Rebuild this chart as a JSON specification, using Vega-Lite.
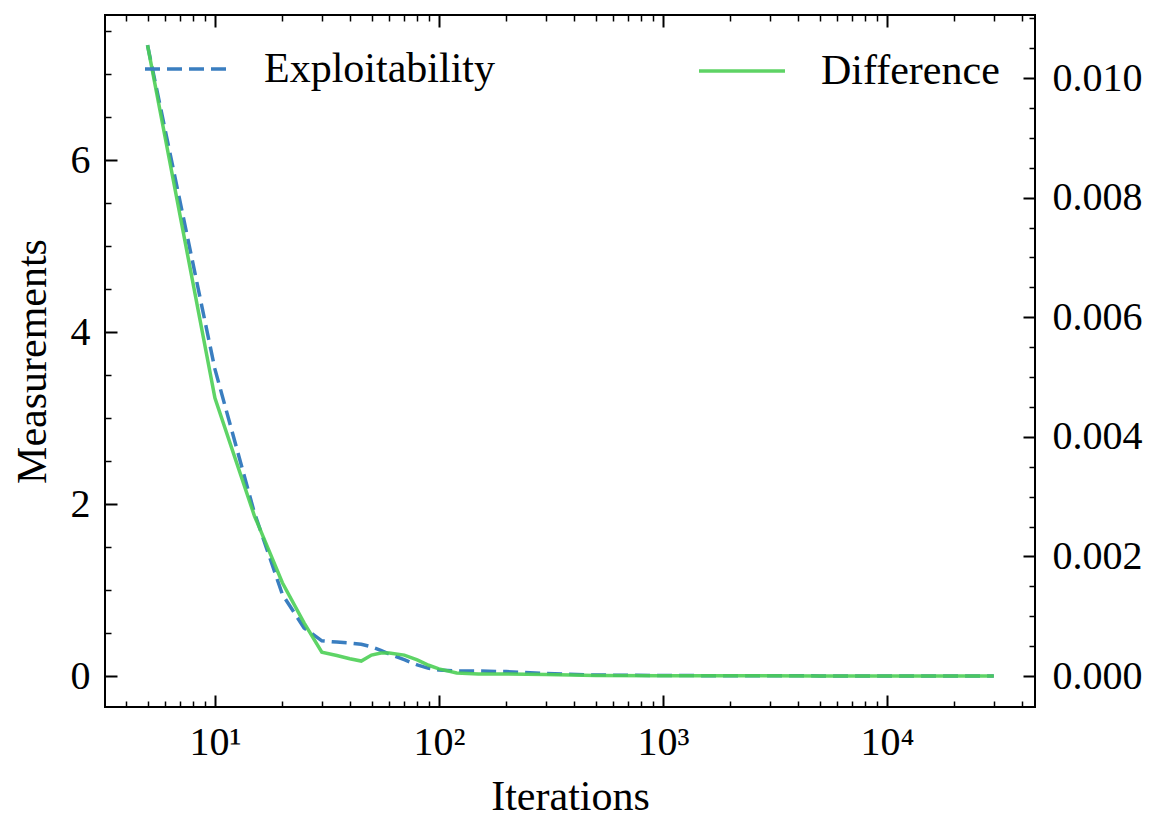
{
  "$schema": "https://vega.github.io/schema/vega-lite/v6.json",
  "width": 930,
  "height": 692,
  "autosize": "none",
  "padding": {"left": 105, "top": 15, "right": 125, "bottom": 125},
  "background": "white",
  "config": {
    "font": "Liberation Serif",
    "view": {"stroke": "black", "strokeWidth": 2},
    "axis": {"domain": false, "grid": false, "labelFlush": false, "tickColor": "black", "labelColor": "black", "titleColor": "black", "titleFontWeight": "normal", "labelFont": "Liberation Serif", "titleFont": "Liberation Serif"}
  },
  "datasets": {
    "exploit": [
      {"n": 5, "series": "Exploitability", "value": 7.34},
      {"n": 10, "series": "Exploitability", "value": 3.57},
      {"n": 15, "series": "Exploitability", "value": 1.9},
      {"n": 20, "series": "Exploitability", "value": 0.95},
      {"n": 25, "series": "Exploitability", "value": 0.56},
      {"n": 30, "series": "Exploitability", "value": 0.41},
      {"n": 35, "series": "Exploitability", "value": 0.395},
      {"n": 40, "series": "Exploitability", "value": 0.384},
      {"n": 45, "series": "Exploitability", "value": 0.37},
      {"n": 50, "series": "Exploitability", "value": 0.34},
      {"n": 55, "series": "Exploitability", "value": 0.3},
      {"n": 60, "series": "Exploitability", "value": 0.256},
      {"n": 70, "series": "Exploitability", "value": 0.19},
      {"n": 80, "series": "Exploitability", "value": 0.13},
      {"n": 90, "series": "Exploitability", "value": 0.09},
      {"n": 100, "series": "Exploitability", "value": 0.07},
      {"n": 120, "series": "Exploitability", "value": 0.058},
      {"n": 150, "series": "Exploitability", "value": 0.058},
      {"n": 200, "series": "Exploitability", "value": 0.052},
      {"n": 300, "series": "Exploitability", "value": 0.03},
      {"n": 500, "series": "Exploitability", "value": 0.012},
      {"n": 1000, "series": "Exploitability", "value": 0.006},
      {"n": 2000, "series": "Exploitability", "value": 0.004},
      {"n": 5000, "series": "Exploitability", "value": 0.002},
      {"n": 10000, "series": "Exploitability", "value": 0.001},
      {"n": 20000, "series": "Exploitability", "value": 0.0005},
      {"n": 30000, "series": "Exploitability", "value": 0.0003}
    ],
    "diff": [
      {"n": 5, "series": "Difference", "value": 0.01055},
      {"n": 10, "series": "Difference", "value": 0.00465},
      {"n": 15, "series": "Difference", "value": 0.00268},
      {"n": 20, "series": "Difference", "value": 0.00156},
      {"n": 25, "series": "Difference", "value": 0.00089},
      {"n": 30, "series": "Difference", "value": 0.0004},
      {"n": 35, "series": "Difference", "value": 0.000343},
      {"n": 40, "series": "Difference", "value": 0.00029},
      {"n": 45, "series": "Difference", "value": 0.00025},
      {"n": 50, "series": "Difference", "value": 0.00035},
      {"n": 55, "series": "Difference", "value": 0.000385},
      {"n": 60, "series": "Difference", "value": 0.000385},
      {"n": 70, "series": "Difference", "value": 0.00035},
      {"n": 80, "series": "Difference", "value": 0.00027},
      {"n": 90, "series": "Difference", "value": 0.00018},
      {"n": 100, "series": "Difference", "value": 0.00012},
      {"n": 120, "series": "Difference", "value": 0.00005},
      {"n": 150, "series": "Difference", "value": 0.000035},
      {"n": 200, "series": "Difference", "value": 0.000035},
      {"n": 300, "series": "Difference", "value": 0.000025},
      {"n": 500, "series": "Difference", "value": 0.00001},
      {"n": 1000, "series": "Difference", "value": 0.000005},
      {"n": 2000, "series": "Difference", "value": 0.000003},
      {"n": 5000, "series": "Difference", "value": 0.000002},
      {"n": 10000, "series": "Difference", "value": 0.000001},
      {"n": 20000, "series": "Difference", "value": 0.0000005},
      {"n": 30000, "series": "Difference", "value": 0.0000003}
    ]
  },
  "layer": [
    {
      "data": {"name": "exploit"},
      "mark": {"type": "line", "strokeWidth": 3.5, "strokeDash": [15, 7], "clip": true},
      "encoding": {
        "x": {"field": "n", "type": "quantitative",
          "scale": {"type": "log", "domain": [3.23, 45800], "nice": false},
          "axis": {"orient": "bottom", "values": [10, 100, 1000, 10000],
            "labelExpr": "datum.value == 10 ? '10¹' : datum.value == 100 ? '10²' : datum.value == 1000 ? '10³' : '10⁴'",
            "tickSize": -12, "tickWidth": 2, "labelPadding": 27, "labelFontSize": 40,
            "title": "Iterations", "titleFontSize": 42, "titlePadding": 14}},
        "y": {"field": "value", "type": "quantitative",
          "scale": {"domain": [-0.36, 7.69], "nice": false, "zero": false},
          "axis": {"orient": "left", "values": [0, 2, 4, 6], "format": "d",
            "tickSize": -12, "tickWidth": 2, "labelPadding": 27, "labelFontSize": 40,
            "title": "Measurements", "titleFontSize": 42, "titlePadding": 16}},
        "color": {"field": "series", "type": "nominal",
          "scale": {"domain": ["Exploitability"], "range": ["#3A7EC0"]},
          "legend": {"orient": "none", "legendX": 38, "legendY": 11, "title": null, "padding": 0,
            "symbolType": "stroke", "symbolSize": 6724, "symbolStrokeWidth": 3.5, "symbolDash": [15, 7],
            "labelFontSize": 42, "labelOffset": 35, "labelLimit": 500, "labelColor": "black", "labelFont": "Liberation Serif"}}
      }
    },
    {
      "data": {"name": "diff"},
      "mark": {"type": "line", "strokeWidth": 3.5, "clip": true, "opacity": 0.9},
      "encoding": {
        "x": {"field": "n", "type": "quantitative",
          "scale": {"type": "log", "domain": [3.23, 45800], "nice": false},
          "axis": {"orient": "top", "values": [10, 100, 1000, 10000], "labels": false,
            "tickSize": -12, "tickWidth": 2, "title": null}},
        "y": {"field": "value", "type": "quantitative",
          "scale": {"domain": [-0.000518, 0.011054], "nice": false, "zero": false},
          "axis": {"orient": "right", "values": [0, 0.002, 0.004, 0.006, 0.008, 0.01], "format": ".3f",
            "tickSize": -12, "tickWidth": 2, "labelPadding": 29, "labelFontSize": 40, "title": null}},
        "color": {"field": "series", "type": "nominal",
          "scale": {"domain": ["Difference"], "range": ["#4DCF55"]},
          "legend": {"orient": "none", "legendX": 592, "legendY": 11, "title": null, "padding": 0,
            "symbolType": "stroke", "symbolSize": 7396, "symbolStrokeWidth": 3.5,
            "labelFontSize": 42, "labelOffset": 34, "labelLimit": 500, "labelColor": "black", "labelFont": "Liberation Serif"}}
      }
    },
    {
      "data": {"name": "exploit"},
      "mark": {"type": "line", "opacity": 0},
      "encoding": {
        "x": {"field": "n", "type": "quantitative",
          "scale": {"type": "log", "domain": [3.23, 45800], "nice": false},
          "axis": {"orient": "bottom", "values": [4, 5, 6, 7, 8, 9, 20, 30, 40, 50, 60, 70, 80, 90, 200, 300, 400, 500, 600, 700, 800, 900, 2000, 3000, 4000, 5000, 6000, 7000, 8000, 9000, 20000, 30000, 40000],
            "labels": false, "tickSize": -6, "tickWidth": 1.5, "title": null}},
        "y": {"field": "value", "type": "quantitative",
          "scale": {"domain": [-0.36, 7.69], "nice": false, "zero": false},
          "axis": {"orient": "left", "values": [0.5, 1, 1.5, 2.5, 3, 3.5, 4.5, 5, 5.5, 6.5, 7, 7.5],
            "labels": false, "tickSize": -6, "tickWidth": 1.5, "title": null}}
      }
    },
    {
      "data": {"name": "diff"},
      "mark": {"type": "line", "opacity": 0},
      "encoding": {
        "x": {"field": "n", "type": "quantitative",
          "scale": {"type": "log", "domain": [3.23, 45800], "nice": false},
          "axis": {"orient": "top", "values": [4, 5, 6, 7, 8, 9, 20, 30, 40, 50, 60, 70, 80, 90, 200, 300, 400, 500, 600, 700, 800, 900, 2000, 3000, 4000, 5000, 6000, 7000, 8000, 9000, 20000, 30000, 40000],
            "labels": false, "tickSize": -6, "tickWidth": 1.5, "title": null}},
        "y": {"field": "value", "type": "quantitative",
          "scale": {"domain": [-0.000518, 0.011054], "nice": false, "zero": false},
          "axis": {"orient": "right", "values": [0.0005, 0.001, 0.0015, 0.0025, 0.003, 0.0035, 0.0045, 0.005, 0.0055, 0.0065, 0.007, 0.0075, 0.0085, 0.009, 0.0095, 0.0105, 0.011],
            "labels": false, "tickSize": -6, "tickWidth": 1.5, "title": null}}
      }
    }
  ],
  "resolve": {
    "scale": {"y": "independent", "color": "independent"},
    "axis": {"x": "independent", "y": "independent"},
    "legend": {"color": "independent"}
  }
}
